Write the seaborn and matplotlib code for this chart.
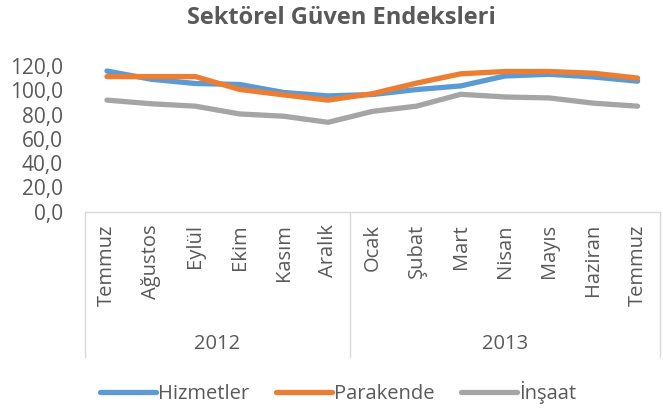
"""Sektörel güven endeksleri (Temmuz 2012 - Temmuz 2013) çizgi grafiği."""

import matplotlib as mpl
import matplotlib.pyplot as plt
import matplotlib.transforms as mtransforms
import numpy as np
import pandas as pd
import seaborn as sns

sns.set_style("white")
mpl.rcParams["font.family"] = ["Open Sans", "DejaVu Sans"]
mpl.rcParams["axes.unicode_minus"] = False

TEXT = "#595959"

months = ["Temmuz", "Ağustos", "Eylül", "Ekim", "Kasım", "Aralık",
          "Ocak", "Şubat", "Mart", "Nisan", "Mayıs", "Haziran", "Temmuz"]
years = ["2012", "2013"]
year_sizes = [6, 7]  # kaç ay hangi yıla ait

hizmetler = [116.0, 109.2, 105.7, 104.9, 98.3, 95.5, 96.6, 100.7, 103.7, 111.9, 113.3, 111.1, 107.6]
parakende = [111.4, 111.4, 111.4, 100.8, 96.3, 92.0, 97.3, 106.0, 113.7, 115.6, 115.6, 114.2, 110.2]
insaat = [92.0, 89.0, 87.0, 80.6, 78.7, 73.7, 82.7, 87.0, 96.8, 94.6, 93.8, 89.5, 87.0]

series = {"Hizmetler": hizmetler, "Parakende": parakende, "İnşaat": insaat}
palette = {"Hizmetler": "#5B9BD5", "Parakende": "#ED7D31", "İnşaat": "#A5A5A5"}

df = pd.concat(
    [pd.DataFrame({"pos": np.arange(len(months)), "value": v, "seri": k}) for k, v in series.items()],
    ignore_index=True,
)

fig = plt.figure(figsize=(6.63, 4.11), dpi=100)
ax = fig.add_axes([0.128, 0.485, 0.867, 0.354])

sns.lineplot(data=df, x="pos", y="value", hue="seri", palette=palette,
             linewidth=3.8, ax=ax, legend=False, solid_capstyle="round")

ax.set_xlim(-0.5, len(months) - 0.5)
ax.set_ylim(0, 120)
ax.set_yticks(np.arange(0, 121, 20))
ax.set_yticklabels([f"{v:.1f}".replace(".", ",") for v in np.arange(0, 121, 20)])
ax.set_xticks(np.arange(len(months)))
ax.set_xticklabels(months, rotation=90)
ax.set_xlabel("")
ax.set_ylabel("")
ax.tick_params(axis="y", length=0, pad=16, labelsize=15, labelcolor=TEXT)
ax.tick_params(axis="x", length=0, pad=9, labelsize=14.5, labelcolor=TEXT)

for side in ["left", "right", "top"]:
    ax.spines[side].set_visible(False)
ax.spines["bottom"].set_color("#D9D9D9")
ax.spines["bottom"].set_linewidth(1.0)

# iki seviyeli kategori ekseni: yıl ayraçları ve yıl etiketleri
trans = mtransforms.blended_transform_factory(ax.transData, ax.transAxes)
edges = np.concatenate([[0], np.cumsum(year_sizes)]) - 0.5
for e in edges:
    ax.plot([e, e], [0, -1.0], transform=trans, color="#D9D9D9", lw=1.0, clip_on=False)
for i, yr in enumerate(years):
    ax.text((edges[i] + edges[i + 1]) / 2, -0.91, yr, transform=trans,
            ha="center", va="center", fontsize=14.5, color=TEXT)

fig.text(0.515, 0.955, "Sektörel Güven Endeksleri", ha="center", va="center",
         fontsize=17, fontweight="bold", color=TEXT)

handles = [mpl.lines.Line2D([], [], color=palette[k], lw=3.8, solid_capstyle="round") for k in series]
fig.legend(handles, list(series), loc="center", bbox_to_anchor=(0.51, 0.045), ncol=3,
           frameon=False, fontsize=14.5, handlelength=2.8, handletextpad=0.1,
           columnspacing=1.3, labelcolor=TEXT)

fig.savefig("out.png", dpi=100)
